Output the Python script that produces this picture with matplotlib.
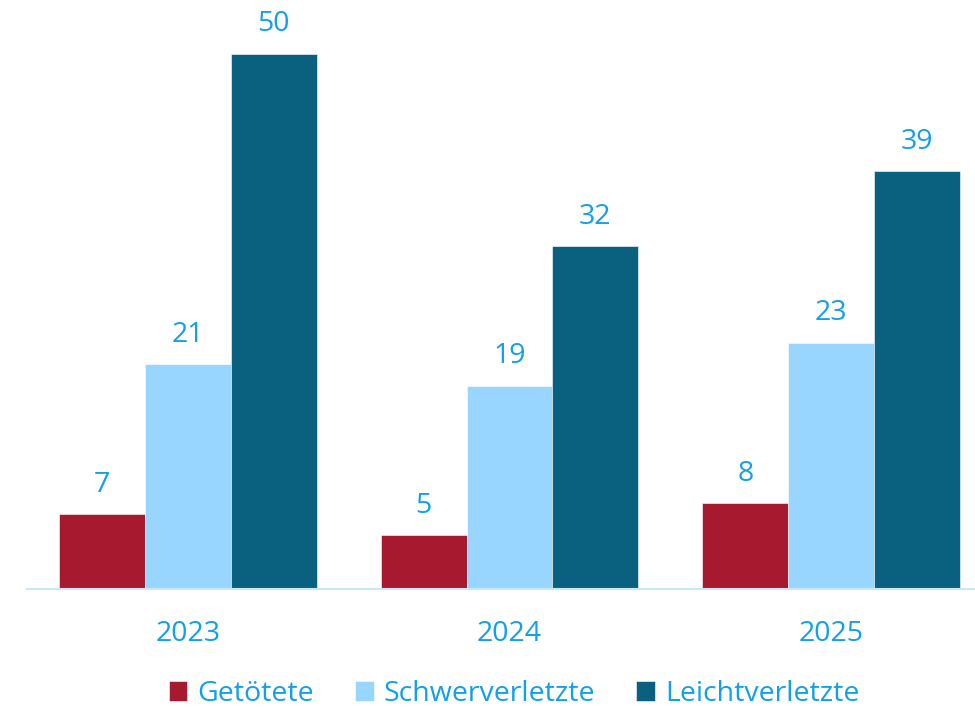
import matplotlib.pyplot as plt
import numpy as np

years = ["2023", "2024", "2025"]
getoetete = [7, 5, 8]
schwer = [21, 19, 23]
leicht = [50, 32, 39]

series_names = ["Getötete", "Schwerverletzte", "Leichtverletzte"]
series_colors = ["#A6192E", "#99D6FF", "#0A607F"]
text_color = "#129FEC"

plt.rcParams["font.family"] = ["Open Sans", "DejaVu Sans"]

fig = plt.figure(figsize=(9.75, 7.07), dpi=100)
ax = fig.add_axes([27 / 975, 118 / 707, 1 - 27 / 975, 589 / 707])

x = np.arange(len(years))
width = 0.267
offsets = [-width, 0, width]
handles = []
for vals, name, col, off in zip([getoetete, schwer, leicht],
                                series_names, series_colors, offsets):
    bars = ax.bar(x + off, vals, width, color=col, label=name,
                  edgecolor="white", linewidth=0.4)
    handles.append(bars)
    for xi, v in zip(x + off, vals):
        ax.annotate(f"{v}", (xi, v), xytext=(0, 11), textcoords="offset points",
                    ha="center", va="bottom", fontsize=20.5, color=text_color)

ax.set_xlim(-0.5, 2.447)
ax.set_ylim(0, 55)
ax.set_xticks(x)
ax.set_xticklabels(years, fontsize=20.5, color=text_color)
ax.tick_params(axis="x", length=0, pad=22)
ax.set_yticks([])
for side in ["top", "right", "left"]:
    ax.spines[side].set_visible(False)
ax.spines["bottom"].set_color("#C8E8F8")
ax.spines["bottom"].set_linewidth(1.5)

leg = fig.legend(handles=handles, loc="center", bbox_to_anchor=(514 / 975, 13 / 707),
                 ncol=3, frameon=False, fontsize=20.5, handlelength=0.65,
                 handleheight=0.65, handletextpad=0.35, columnspacing=1.45)
for t in leg.get_texts():
    t.set_color(text_color)

fig.savefig("out.png", dpi=100)
